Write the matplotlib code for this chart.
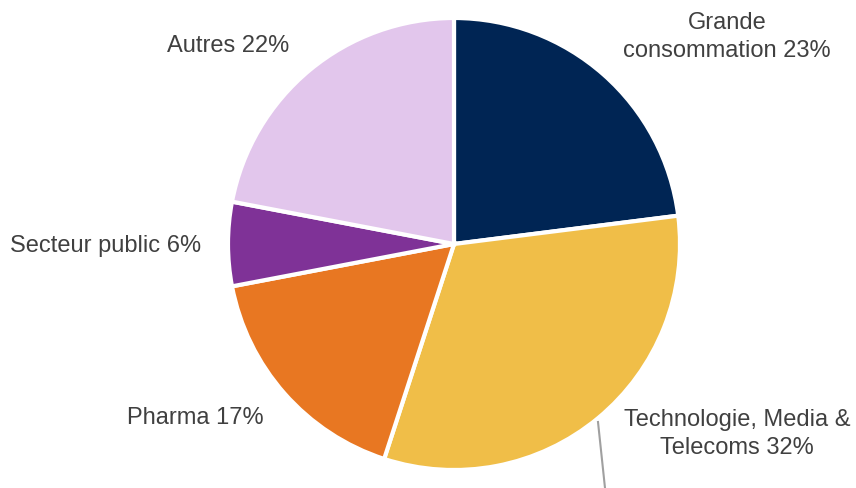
import matplotlib.pyplot as plt

labels = ["Grande\nconsommation 23%", "Technologie, Media &\nTelecoms 32%",
          "Pharma 17%", "Secteur public 6%", "Autres 22%"]
shares = [23, 32, 17, 6, 22]
colors = ["#002554", "#F0BE48", "#E87722", "#7F3297", "#E2C6EC"]

# label centres in pixel space (x, y from top)
label_pos = [(727, 37), (737, 434), (195, 418), (106, 246), (228, 46)]

plt.rcParams["font.family"] = ["Liberation Sans", "DejaVu Sans"]

fig = plt.figure(figsize=(8.56, 4.88), dpi=100)
ax = fig.add_axes([0, 0, 1, 1])

ax.pie(shares, colors=colors, startangle=90, counterclock=False,
       center=(454, 244), radius=226,
       wedgeprops=dict(edgecolor="white", linewidth=3))

# pie() rescales the axes, so fix the pixel frame afterwards
ax.set_xlim(0, 856)
ax.set_ylim(0, 488)
ax.set_aspect("equal")
ax.axis("off")

for text, (x, y) in zip(labels, label_pos):
    ax.text(x, 488 - y, text, ha="center", va="center", fontsize=17,
            color="#404040", linespacing=1.3)

# leader line below the Technologie label
ax.plot([598, 605], [488 - 422, 0], color="#A0A0A0", lw=1.5, clip_on=False)

fig.savefig("out.png", dpi=100)
